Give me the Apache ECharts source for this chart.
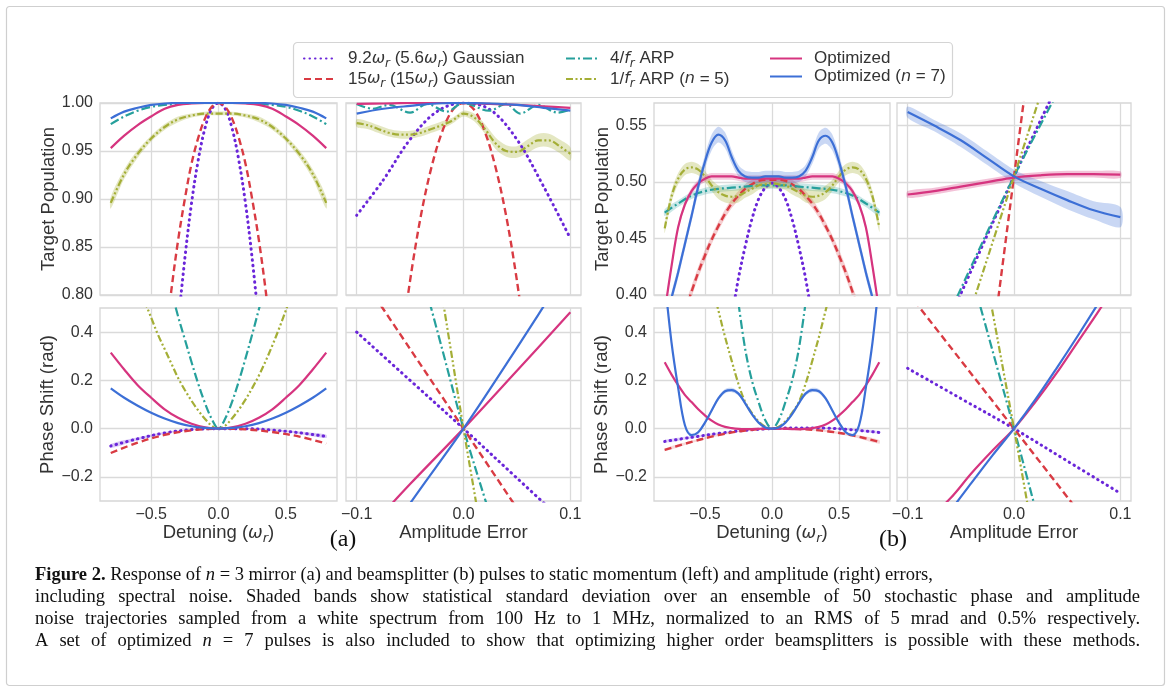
<!DOCTYPE html>
<html>
<head>
<meta charset="utf-8">
<script src="https://cdn.jsdelivr.net/npm/echarts@6/dist/echarts.min.js"></script>
<style>
  html, body { margin: 0; padding: 0; background: #fff; }
  #main { width: 1167px; height: 688px; }
</style>
</head>
<body>
<div id="main"></div>
<script>
// values (x grids, then one array per curve)
var detX33 = [-0.8,-0.75,-0.7,-0.65,-0.6,-0.55,-0.5,-0.45,-0.4,-0.35,-0.3,-0.25,-0.2,-0.15,-0.1,-0.05,0,0.05,0.1,0.15,0.2,0.25,0.3,0.35,0.4,0.45,0.5,0.55,0.6,0.65,0.7,0.75,0.8];
var detX17 = [-0.8,-0.7,-0.6,-0.5,-0.4,-0.3,-0.2,-0.1,0,0.1,0.2,0.3,0.4,0.5,0.6,0.7,0.8];
var detX9 = [-0.8,-0.6,-0.4,-0.2,0,0.2,0.4,0.6,0.8];
var ampX21 = [-0.1,-0.09,-0.08,-0.07,-0.06,-0.05,-0.04,-0.03,-0.02,-0.01,0,0.01,0.02,0.03,0.04,0.05,0.06,0.07,0.08,0.09,0.1];
var ampX11 = [-0.1,-0.08,-0.06,-0.04,-0.02,0,0.02,0.04,0.06,0.08,0.1];
var ampX9 = [-0.1,-0.075,-0.05,-0.025,0,0.025,0.05,0.075,0.1];
var ampX5 = [-0.1,-0.05,0,0.05,0.1];

var detTicks = [-0.5, 0, 0.5];
var ampTicks = [-0.1, 0, 0.1];
var popATicks = [0.8, 0.85, 0.9, 0.95, 1.0];
var popBTicks = [0.4, 0.45, 0.5, 0.55];
var phaseTicks = [-0.2, 0, 0.2, 0.4];

// (a) mirror, detuning -> population
var a1PurpleX = [-0.3,-0.25,-0.2,-0.15,-0.1,-0.05,0,0.05,0.1,0.15,0.2,0.25,0.3];
var a1Purple = [0.770,0.838,0.896,0.941,0.974,0.994,1.000,0.994,0.974,0.941,0.896,0.838,0.770];
var a1RedX = [-0.4,-0.35,-0.3,-0.25,-0.2,-0.15,-0.1,-0.05,0,0.05,0.1,0.15,0.2,0.25,0.3,0.35,0.4];
var a1Red = [0.745,0.805,0.857,0.900,0.937,0.964,0.984,0.996,1.000,0.996,0.984,0.964,0.937,0.900,0.857,0.805,0.745];
var a1Teal = [0.978,0.986,0.992,0.996,0.998,0.999,1.000,1.000,1.000,1.000,1.000,0.999,0.998,0.996,0.992,0.986,0.978];
var a1Olive = [0.896,0.926,0.947,0.963,0.975,0.983,0.987,0.989,0.989,0.989,0.987,0.983,0.975,0.963,0.947,0.926,0.896];
var a1OliveBand = [0.006,0.005,0.004,0.003,0.003,0.003,0.002,0.002,0.002,0.002,0.002,0.003,0.003,0.003,0.004,0.005,0.006];
var a1Pink = [0.953,0.966,0.977,0.986,0.994,0.998,0.9995,1.000,1.000,1.000,0.9995,0.998,0.994,0.986,0.977,0.966,0.953];
var a1Blue = [0.984,0.991,0.995,0.998,0.9995,1.000,1.000,1.000,1.000,1.000,1.000,1.000,0.9995,0.998,0.995,0.991,0.984];

// (a) mirror, amplitude error -> population
var a2Purple = [0.883,0.920,0.962,0.991,1.000,0.993,0.962,0.913,0.859];
var a2RedX = [-0.06,-0.05,-0.04,-0.03,-0.02,-0.01,0,0.01,0.02,0.03,0.04,0.05,0.06];
var a2Red = [0.734,0.815,0.882,0.933,0.970,0.993,1.000,0.993,0.970,0.933,0.882,0.815,0.734];
var a2TealX = [-0.1,-0.085,-0.07,-0.05,-0.034,-0.016,0,0.024,0.04,0.053,0.07,0.088,0.1];
var a2Teal = [0.999,0.994,0.998,0.990,0.999,0.991,1.000,0.992,0.999,0.989,0.998,0.990,0.993];
var a2Olive = [0.979,0.977,0.973,0.969,0.967,0.967,0.969,0.973,0.977,0.982,0.989,0.985,0.973,0.958,0.950,0.949,0.955,0.961,0.961,0.955,0.947];
var a2OliveBand = [0.004,0.004,0.004,0.004,0.004,0.004,0.004,0.004,0.004,0.003,0.003,0.004,0.005,0.006,0.006,0.006,0.007,0.007,0.007,0.007,0.007];
var a2Pink = [0.999,0.9995,1.000,1.000,1.000,0.999,0.998,0.9965,0.995];
var a2Blue = [0.989,0.994,0.997,0.9995,1.000,0.9995,0.998,0.995,0.992];

// (a) mirror, detuning -> phase
var a3Purple = [-0.072,-0.042,-0.018,-0.004,0.000,0.000,-0.006,-0.017,-0.032];
var a3PurpleBand = [0.008,0.006,0.004,0.002,0.001,0.002,0.003,0.005,0.007];
var a3Red = [-0.101,-0.058,-0.026,-0.007,0.000,-0.003,-0.014,-0.033,-0.062];
var a3TealX = [-0.35,-0.3,-0.25,-0.2,-0.15,-0.1,-0.05,0,0.05,0.1,0.15,0.2,0.25,0.3,0.35];
var a3Teal = [0.570,0.465,0.370,0.275,0.185,0.105,0.040,0.000,0.042,0.110,0.195,0.290,0.390,0.495,0.600];
var a3OliveX = [-0.55,-0.5,-0.45,-0.4,-0.35,-0.3,-0.25,-0.2,-0.15,-0.1,-0.05,0,0.05,0.1,0.15,0.2,0.25,0.3,0.35,0.4,0.45,0.5,0.55];
var a3Olive = [0.530,0.460,0.390,0.330,0.270,0.210,0.160,0.115,0.075,0.040,0.012,0.000,0.012,0.042,0.078,0.120,0.168,0.220,0.280,0.345,0.415,0.490,0.570];
var a3Pink = [0.315,0.245,0.180,0.128,0.080,0.045,0.020,0.005,0.000,0.005,0.020,0.045,0.080,0.128,0.180,0.245,0.315];
var a3Blue = [0.167,0.128,0.095,0.066,0.042,0.023,0.010,0.003,0.000,0.003,0.010,0.023,0.042,0.066,0.095,0.128,0.167];

// (a) mirror, amplitude error -> phase
var a4Purple = [0.400,0.200,0.000,-0.205,-0.410];
var a4Red = [0.660,0.330,0.000,-0.330,-0.660];
var a4TealX = [-0.04,-0.02,0,0.02,0.04];
var a4Teal = [0.660,0.330,0.000,-0.290,-0.570];
var a4OliveX = [-0.02,-0.01,0,0.01,0.02];
var a4Olive = [0.550,0.275,0.000,-0.260,-0.520];
var a4Pink = [-0.470,-0.230,0.000,0.240,0.482];
var a4Blue = [-0.640,-0.310,0.000,0.335,0.680];

// (b) beamsplitter, detuning -> population
var b1PurpleX = [-0.3,-0.25,-0.2,-0.15,-0.1,-0.05,0,0.05,0.1,0.15,0.2,0.25,0.3];
var b1Purple = [0.380,0.415,0.443,0.467,0.485,0.495,0.499,0.495,0.485,0.467,0.443,0.415,0.380];
var b1RedX = [-0.65,-0.6,-0.55,-0.5,-0.45,-0.4,-0.35,-0.3,-0.25,-0.2,-0.15,-0.1,-0.05,0,0.05,0.1,0.15,0.2,0.25,0.3,0.35,0.4,0.45,0.5,0.55,0.6,0.65];
var b1Red = [0.385,0.403,0.420,0.435,0.449,0.461,0.472,0.481,0.488,0.494,0.498,0.501,0.502,0.502,0.502,0.501,0.498,0.494,0.488,0.481,0.472,0.461,0.449,0.435,0.420,0.403,0.385];
var b1RedBand = [0.005,0.005,0.005,0.005,0.004,0.004,0.004,0.004,0.004,0.004,0.004,0.004,0.004,0.004,0.004,0.004,0.004,0.004,0.004,0.004,0.004,0.004,0.004,0.005,0.005,0.005,0.005];
var b1Teal = [0.473,0.481,0.488,0.492,0.494,0.495,0.496,0.497,0.497,0.497,0.496,0.495,0.494,0.492,0.488,0.481,0.473];
var b1TealBand = [0.003,0.003,0.003,0.003,0.003,0.003,0.003,0.003,0.003,0.003,0.003,0.003,0.003,0.003,0.003,0.003,0.003];
var b1Olive = [0.459,0.487,0.503,0.511,0.513,0.511,0.505,0.497,0.491,0.488,0.487,0.488,0.491,0.494,0.497,0.498,0.499,0.498,0.497,0.494,0.491,0.488,0.487,0.488,0.491,0.497,0.505,0.511,0.513,0.511,0.503,0.487,0.460];
var b1OliveBand = [0.004,0.005,0.005,0.005,0.005,0.005,0.005,0.005,0.006,0.006,0.006,0.006,0.005,0.005,0.004,0.004,0.004,0.004,0.004,0.005,0.005,0.006,0.006,0.006,0.006,0.005,0.005,0.005,0.005,0.005,0.005,0.005,0.004];
var b1Pink = [0.385,0.425,0.460,0.480,0.492,0.499,0.503,0.505,0.505,0.505,0.505,0.504,0.503,0.503,0.503,0.503,0.503,0.503,0.503,0.503,0.503,0.504,0.505,0.505,0.505,0.505,0.503,0.499,0.492,0.480,0.460,0.425,0.385];
var b1PinkBand = [0.003,0.003,0.003,0.003,0.003,0.003,0.003,0.003,0.003,0.003,0.003,0.003,0.003,0.003,0.003,0.003,0.003,0.003,0.003,0.003,0.003,0.003,0.003,0.003,0.003,0.003,0.003,0.003,0.003,0.003,0.003,0.003,0.003];
var b1Blue = [0.370,0.397,0.420,0.445,0.470,0.496,0.518,0.535,0.542,0.537,0.522,0.510,0.505,0.504,0.504,0.505,0.505,0.505,0.504,0.504,0.505,0.510,0.522,0.537,0.541,0.535,0.518,0.496,0.470,0.445,0.420,0.397,0.370];
var b1BlueBand = [0.005,0.005,0.005,0.005,0.005,0.006,0.006,0.007,0.007,0.007,0.006,0.005,0.005,0.005,0.005,0.005,0.005,0.005,0.005,0.005,0.005,0.005,0.006,0.007,0.007,0.007,0.006,0.006,0.005,0.005,0.005,0.005,0.005];

// (b) beamsplitter, amplitude error -> population
var b2PurpleX = [-0.06,0,0.06];
var b2Purple = [0.380,0.505,0.623];
var b2RedX = [-0.02,0,0.02];
var b2Red = [0.359,0.505,0.650];
var b2TealX = [-0.06,0,0.06];
var b2Teal = [0.385,0.505,0.613];
var b2OliveX = [-0.04,0,0.04];
var b2Olive = [0.389,0.505,0.621];
var b2Pink = [0.489,0.492,0.496,0.500,0.504,0.506,0.507,0.507,0.5065];
var b2PinkBand = [0.003,0.003,0.003,0.003,0.003,0.003,0.003,0.003,0.003];
var b2Blue = [0.562,0.550,0.537,0.521,0.505,0.494,0.484,0.475,0.469];
var b2BlueBand = [0.005,0.005,0.006,0.006,0.006,0.007,0.008,0.008,0.009];

// (b) beamsplitter, detuning -> phase
var b3Purple = [-0.053,-0.036,-0.020,-0.007,0.000,0.003,0.002,-0.005,-0.016];
var b3PurpleBand = [0.006,0.005,0.004,0.002,0.001,0.002,0.003,0.004,0.005];
var b3Red = [-0.088,-0.055,-0.027,-0.008,0.000,-0.002,-0.010,-0.028,-0.055];
var b3RedBand = [0.006,0.005,0.004,0.002,0.001,0.002,0.004,0.006,0.008];
var b3TealX = [-0.25,-0.2,-0.15,-0.1,-0.05,0,0.05,0.1,0.15,0.2,0.25];
var b3Teal = [0.520,0.330,0.200,0.110,0.035,0.000,0.035,0.110,0.200,0.330,0.520];
var b3OliveX = [-0.45,-0.4,-0.35,-0.3,-0.25,-0.2,-0.15,-0.1,-0.05,0,0.05,0.1,0.15,0.2,0.25,0.3,0.35,0.4,0.45];
var b3Olive = [0.600,0.490,0.380,0.280,0.185,0.110,0.065,0.030,0.008,0.000,0.008,0.030,0.065,0.110,0.185,0.280,0.380,0.490,0.600];
var b3Pink = [0.275,0.225,0.180,0.140,0.110,0.080,0.055,0.033,0.017,0.007,0.002,-0.001,-0.002,-0.002,-0.001,0.000,0.000,0.000,-0.001,-0.002,-0.002,-0.001,0.002,0.007,0.017,0.033,0.055,0.080,0.110,0.140,0.180,0.225,0.275];
var b3Blue = [0.620,0.360,0.170,0.015,-0.027,-0.015,0.025,0.075,0.125,0.155,0.160,0.145,0.105,0.060,0.025,0.005,0.000,0.005,0.025,0.060,0.105,0.145,0.160,0.155,0.125,0.075,0.025,-0.015,-0.027,0.015,0.170,0.360,0.620];
var b3BlueBand = [0.006,0.006,0.006,0.006,0.006,0.006,0.006,0.007,0.008,0.009,0.009,0.008,0.007,0.006,0.005,0.005,0.005,0.005,0.005,0.006,0.007,0.008,0.009,0.009,0.008,0.007,0.006,0.006,0.006,0.006,0.006,0.006,0.006];

// (b) beamsplitter, amplitude error -> phase
var b4Purple = [0.250,0.125,0.000,-0.134,-0.268];
var b4Red = [0.565,0.283,0.000,-0.283,-0.565];
var b4TealX = [-0.04,-0.02,0,0.02,0.04];
var b4Teal = [0.640,0.320,0.000,-0.330,-0.660];
var b4OliveX = [-0.03,-0.015,0,0.015,0.03];
var b4Olive = [0.720,0.360,0.000,-0.370,-0.740];
var b4Pink = [-0.450,-0.370,-0.290,-0.185,-0.090,0.000,0.110,0.230,0.360,0.490,0.630];
var b4Blue = [-0.540,-0.440,-0.340,-0.225,-0.110,0.000,0.120,0.250,0.385,0.525,0.670];

var SANS = '"Liberation Sans", Arial, sans-serif';
var SERIF = '"Liberation Serif", "Times New Roman", serif';
var MATH = '"DejaVu Sans", sans-serif';
var TXT = '#333';

var colors = {
  g9: '#6a26d9', g15: '#d93b43', arp4: '#26a09c',
  arp1: '#a4ae36', opt: '#d6347f', opt7: '#3c6fd6'
};
var lineStyles = {
  g9: { color: colors.g9, width: 3, type: [0.5, 5], cap: 'round' },
  g15: { color: colors.g15, width: 2.4, type: [7, 4] },
  arp4: { color: colors.arp4, width: 2.2, type: [9, 3, 2, 3] },
  arp1: { color: colors.arp1, width: 2.2, type: [7, 2.5, 2, 2.5, 2, 2.5] },
  opt: { color: colors.opt, width: 2.2 },
  opt7: { color: colors.opt7, width: 2.2 }
};

// rich text set: t = plain, i = math italic, s = subscript, g = handle/text gap
function rich(size, lh) {
  return {
    t: { fontFamily: SANS, fontSize: size, color: TXT, lineHeight: lh },
    i: { fontFamily: MATH, fontStyle: 'italic', fontSize: size - 1, color: TXT, lineHeight: lh },
    s: { fontFamily: MATH, fontStyle: 'italic', fontSize: Math.round(size * 0.7), color: TXT, lineHeight: lh - 8, verticalAlign: 'bottom' },
    g: { width: 7, lineHeight: lh }
  };
}

var legendText = {
  g9: '{g| }{t|9.2}{i|ω}{s|r}{t| (5.6}{i|ω}{s|r}{t|) Gaussian}',
  g15: '{g| }{t|15}{i|ω}{s|r}{t| (15}{i|ω}{s|r}{t|) Gaussian}',
  arp4: '{g| }{t|4/}{i|f}{s|r}{t| ARP}',
  arp1: '{g| }{t|1/}{i|f}{s|r}{t| ARP (}{i|n}{t| = 5)}',
  opt: '{g| }{t|Optimized}',
  opt7: '{g| }{t|Optimized (}{i|n}{t| = 7)}'
};

var gridBox = [
  [100, 103, 237, 192], [346, 103, 235, 192], [100, 308, 237, 193], [346, 308, 235, 193],
  [654, 103, 236, 192], [897, 103, 234, 192], [654, 308, 236, 193], [897, 308, 234, 193]
];
var kinds = {
  det: { min: -0.88, max: 0.88, ticks: detTicks, digits: 1 },
  amp: { min: -0.11, max: 0.11, ticks: ampTicks, digits: 1 },
  popA: { min: 0.8, max: 1.0, ticks: popATicks, digits: 2 },
  popB: { min: 0.4, max: 0.57, ticks: popBTicks, digits: 2 },
  phase: { min: -0.3, max: 0.5, ticks: phaseTicks, digits: 1 }
};
var xKind = ['det', 'amp', 'det', 'amp', 'det', 'amp', 'det', 'amp'];
var yKind = ['popA', 'popA', 'phase', 'phase', 'popB', 'popB', 'phase', 'phase'];
var xName = { det: '{t|Detuning (}{i|ω}{s|r}{t|)}', amp: '{t|Amplitude Error}' };
var yName = { popA: '{t|Target Population}', popB: '{t|Target Population}', phase: '{t|Phase Shift (rad)}' };

function makeAxis(kindKey, gi, showLabel, isX) {
  var k = kinds[kindKey];
  return {
    type: 'value', gridIndex: gi, min: k.min, max: k.max,
    axisLine: { show: false },
    axisTick: { show: false, customValues: k.ticks },
    axisLabel: {
      show: showLabel, customValues: k.ticks, margin: isX ? 6 : 7,
      color: TXT, fontSize: 16, fontFamily: SANS,
      formatter: function (v) { return v.toFixed(k.digits).replace('-', '\u2212'); }
    },
    splitLine: { show: true, lineStyle: { color: '#dadada', width: 1.3 } },
    name: showLabel ? (isX ? xName[kindKey] : yName[kindKey]) : '',
    nameLocation: 'middle', nameGap: isX ? 19 : 34,
    nameTextStyle: { rich: rich(18.5, 24) }
  };
}

var grids = [], xAxes = [], yAxes = [];
gridBox.forEach(function (b, gi) {
  grids.push({ left: b[0], top: b[1], width: b[2], height: b[3], show: true,
    borderColor: '#d6d6d6', borderWidth: 1.3, backgroundColor: '#fff' });
  xAxes.push(makeAxis(xKind[gi], gi, gi === 2 || gi === 3 || gi === 6 || gi === 7, true));
  yAxes.push(makeAxis(yKind[gi], gi, gi === 0 || gi === 2 || gi === 4 || gi === 6, false));
});

var series = [];
function addLine(gi, key, xs, ys) {
  series.push({
    type: 'line', name: key, xAxisIndex: gi, yAxisIndex: gi,
    data: xs.map(function (x, i) { return [x, ys[i]]; }),
    symbol: 'none', smooth: 0.35, silent: true, z: 3,
    lineStyle: lineStyles[key], itemStyle: { color: colors[key] }
  });
}
// shaded std band drawn as a polygon through the axis scales
function addBand(gi, key, xs, ys, hw, alpha) {
  series.push({
    type: 'custom', xAxisIndex: gi, yAxisIndex: gi, z: 1, silent: true,
    data: [[xs[0], ys[0]]],
    renderItem: function (params, api) {
      var pts = [];
      for (var i = 0; i < xs.length; i++) pts.push(api.coord([xs[i], ys[i] + hw[i]]));
      for (var j = xs.length - 1; j >= 0; j--) pts.push(api.coord([xs[j], ys[j] - hw[j]]));
      var cs = params.coordSys;
      return {
        type: 'polygon', shape: { points: pts, smooth: 0.3 },
        style: { fill: colors[key], opacity: alpha },
        clipPath: { type: 'rect', shape: { x: cs.x, y: cs.y, width: cs.width, height: cs.height } }
      };
    }
  });
}

// panel (a) top left
addBand(0, 'arp1', detX17, a1Olive, a1OliveBand, 0.3);
addLine(0, 'g9', a1PurpleX, a1Purple);
addLine(0, 'g15', a1RedX, a1Red);
addLine(0, 'arp4', detX17, a1Teal);
addLine(0, 'arp1', detX17, a1Olive);
addLine(0, 'opt', detX17, a1Pink);
addLine(0, 'opt7', detX17, a1Blue);
// panel (a) top right
addBand(1, 'arp1', ampX21, a2Olive, a2OliveBand, 0.3);
addLine(1, 'g9', ampX9, a2Purple);
addLine(1, 'g15', a2RedX, a2Red);
addLine(1, 'arp4', a2TealX, a2Teal);
addLine(1, 'arp1', ampX21, a2Olive);
addLine(1, 'opt', ampX9, a2Pink);
addLine(1, 'opt7', ampX9, a2Blue);
// panel (a) bottom left
addBand(2, 'g9', detX9, a3Purple, a3PurpleBand, 0.25);
addLine(2, 'g9', detX9, a3Purple);
addLine(2, 'g15', detX9, a3Red);
addLine(2, 'arp4', a3TealX, a3Teal);
addLine(2, 'arp1', a3OliveX, a3Olive);
addLine(2, 'opt', detX17, a3Pink);
addLine(2, 'opt7', detX17, a3Blue);
// panel (a) bottom right
addLine(3, 'g9', ampX5, a4Purple);
addLine(3, 'g15', ampX5, a4Red);
addLine(3, 'arp4', a4TealX, a4Teal);
addLine(3, 'arp1', a4OliveX, a4Olive);
addLine(3, 'opt', ampX5, a4Pink);
addLine(3, 'opt7', ampX5, a4Blue);
// panel (b) top left
addBand(4, 'g15', b1RedX, b1Red, b1RedBand, 0.25);
addBand(4, 'arp4', detX17, b1Teal, b1TealBand, 0.25);
addBand(4, 'arp1', detX33, b1Olive, b1OliveBand, 0.3);
addBand(4, 'opt', detX33, b1Pink, b1PinkBand, 0.25);
addBand(4, 'opt7', detX33, b1Blue, b1BlueBand, 0.28);
addLine(4, 'g9', b1PurpleX, b1Purple);
addLine(4, 'g15', b1RedX, b1Red);
addLine(4, 'arp4', detX17, b1Teal);
addLine(4, 'arp1', detX33, b1Olive);
addLine(4, 'opt', detX33, b1Pink);
addLine(4, 'opt7', detX33, b1Blue);
// panel (b) top right
addBand(5, 'opt', ampX9, b2Pink, b2PinkBand, 0.3);
addBand(5, 'opt7', ampX9, b2Blue, b2BlueBand, 0.28);
addLine(5, 'g9', b2PurpleX, b2Purple);
addLine(5, 'g15', b2RedX, b2Red);
addLine(5, 'arp4', b2TealX, b2Teal);
addLine(5, 'arp1', b2OliveX, b2Olive);
addLine(5, 'opt', ampX9, b2Pink);
addLine(5, 'opt7', ampX9, b2Blue);
// panel (b) bottom left
addBand(6, 'g9', detX9, b3Purple, b3PurpleBand, 0.2);
addBand(6, 'g15', detX9, b3Red, b3RedBand, 0.2);
addBand(6, 'opt7', detX33, b3Blue, b3BlueBand, 0.25);
addLine(6, 'g9', detX9, b3Purple);
addLine(6, 'g15', detX9, b3Red);
addLine(6, 'arp4', b3TealX, b3Teal);
addLine(6, 'arp1', b3OliveX, b3Olive);
addLine(6, 'opt', detX33, b3Pink);
addLine(6, 'opt7', detX33, b3Blue);
// panel (b) bottom right
addLine(7, 'g9', ampX5, b4Purple);
addLine(7, 'g15', ampX5, b4Red);
addLine(7, 'arp4', b4TealX, b4Teal);
addLine(7, 'arp1', b4OliveX, b4Olive);
addLine(7, 'opt', ampX11, b4Pink);
addLine(7, 'opt7', ampX11, b4Blue);

function legendCol(left, names) {
  return {
    orient: 'vertical', left: left, top: 45, itemGap: 1,
    itemWidth: 32, itemHeight: 14, data: names, selectedMode: false,
    itemStyle: { opacity: 0 },
    formatter: function (n) { return legendText[n]; },
    textStyle: { rich: rich(17, 22) }
  };
}

// caption: first line left aligned, the rest justified like the printed page
var CAP_SIZE = 18.5, CAP_LEFT = 35, CAP_RIGHT = 1140, CAP_FILL = '#111';
var captionFirst = '{b|Figure 2.} Response of {i|n} = 3 mirror (a) and beamsplitter (b) pulses to static momentum (left) and amplitude (right) errors,';
var captionRest = [
  'including spectral noise. Shaded bands show statistical standard deviation over an ensemble of 50 stochastic phase and amplitude',
  'noise trajectories sampled from a white spectrum from 100 Hz to 1 MHz, normalized to an RMS of 5 mrad and 0.5% respectively.',
  'A set of optimized {i|n} = 7 pulses is also included to show that optimizing higher order beamsplitters is possible with these methods.'
];
var captionY = [575, 597, 619, 641];

var graphics = [
  { type: 'rect', left: 4, top: 4, shape: { width: 1158, height: 679, r: 3 },
    style: { fill: 'none', stroke: '#cfcfcf', lineWidth: 1.2 }, silent: true },
  { type: 'rect', left: 291, top: 40, shape: { width: 659, height: 55, r: 4 },
    style: { fill: 'none', stroke: '#d4d4d4', lineWidth: 1.2 }, silent: true },
  { type: 'text', x: 343, y: 540, style: { text: '(a)', fontFamily: SERIF, fontSize: 24, fill: CAP_FILL, align: 'center', verticalAlign: 'middle' } },
  { type: 'text', x: 893, y: 540, style: { text: '(b)', fontFamily: SERIF, fontSize: 24, fill: CAP_FILL, align: 'center', verticalAlign: 'middle' } },
  { type: 'text', x: CAP_LEFT, y: captionY[0], silent: true,
    style: { text: captionFirst, fontFamily: SERIF, fontSize: CAP_SIZE, fill: CAP_FILL, verticalAlign: 'middle',
      rich: {
        b: { fontFamily: SERIF, fontWeight: 'bold', fontSize: CAP_SIZE, fill: CAP_FILL },
        i: { fontFamily: SERIF, fontStyle: 'italic', fontSize: CAP_SIZE, fill: CAP_FILL }
      } } }
];

var measure = document.createElement('canvas').getContext('2d');
captionRest.forEach(function (line, li) {
  var words = line.split(' ').map(function (w) {
    var m = /^\{i\|(.*)\}$/.exec(w);
    return m ? { text: m[1], italic: true } : { text: w, italic: false };
  });
  var widths = words.map(function (w) {
    measure.font = (w.italic ? 'italic ' : '') + CAP_SIZE + 'px ' + SERIF;
    return measure.measureText(w.text).width;
  });
  var total = widths.reduce(function (a, b) { return a + b; }, 0);
  var gap = (CAP_RIGHT - CAP_LEFT - total) / (words.length - 1);
  var x = CAP_LEFT;
  words.forEach(function (w, k) {
    graphics.push({ type: 'text', x: x, y: captionY[li + 1], silent: true,
      style: { text: w.text, fontFamily: SERIF, fontSize: CAP_SIZE, fontStyle: w.italic ? 'italic' : 'normal',
        fill: CAP_FILL, verticalAlign: 'middle' } });
    x += widths[k] + gap;
  });
});

var chart = echarts.init(document.getElementById('main'), null, { renderer: 'canvas' });
chart.setOption({
  animation: false,
  backgroundColor: '#fff',
  grid: grids,
  xAxis: xAxes,
  yAxis: yAxes,
  legend: [legendCol(298, ['g9', 'g15']), legendCol(560, ['arp4', 'arp1']), legendCol(764, ['opt', 'opt7'])],
  graphic: graphics,
  series: series
});
</script>
</body>
</html>
